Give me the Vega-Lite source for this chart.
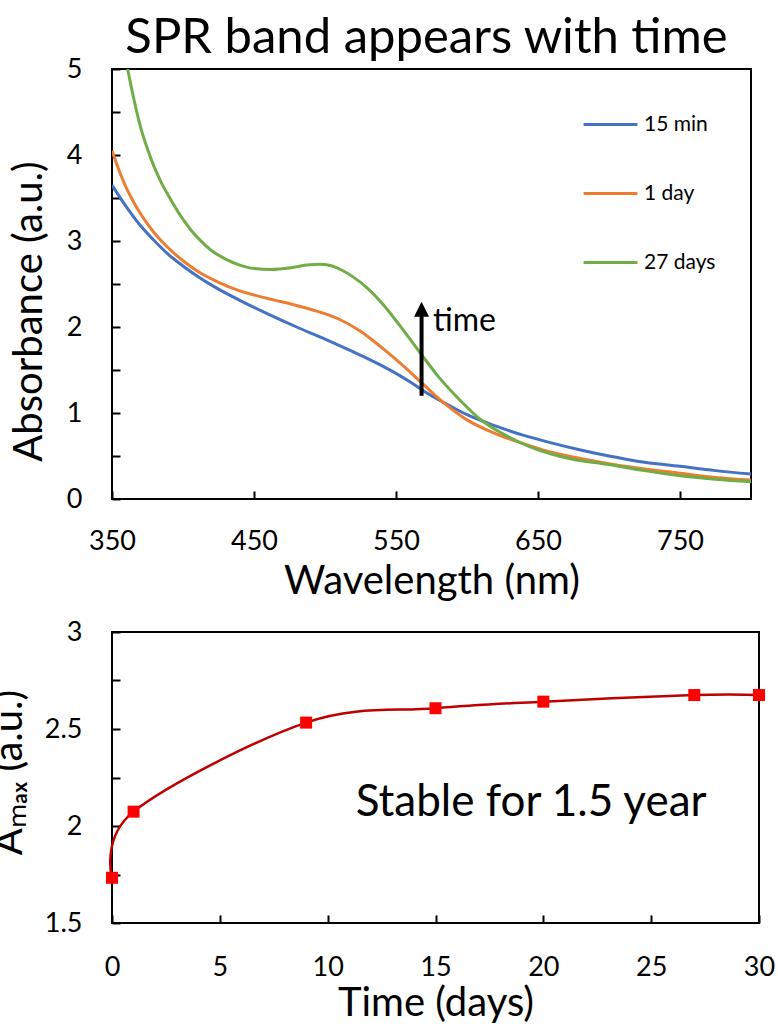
{
  "$schema": "https://vega.github.io/schema/vega-lite/v6.json",
  "padding": {"left": -12, "top": 13, "right": 0, "bottom": 0},
  "spacing": 15,
  "config": {
    "font": "Lato",
    "view": {"stroke": "black", "strokeWidth": 2},
    "axis": {
      "domain": false, "grid": false, "ticks": true,
      "tickColor": "black", "tickWidth": 2, "tickSize": -8,
      "labelColor": "black", "labelFont": "Lato", "labelFontSize": 27,
      "titleFont": "Lato", "titleFontSize": 40, "titleFontWeight": "normal", "titleColor": "black",
      "labelFlush": false, "labelOverlap": false
    },
    "legend": {"labelFont": "Lato", "labelColor": "black"}
  },
  "datasets": {
    "spectra": [
      {"wavelength": 350, "absorbance": 3.65, "series": "15 min"},
      {"wavelength": 360, "absorbance": 3.40, "series": "15 min"},
      {"wavelength": 370, "absorbance": 3.18, "series": "15 min"},
      {"wavelength": 380, "absorbance": 3.00, "series": "15 min"},
      {"wavelength": 390, "absorbance": 2.84, "series": "15 min"},
      {"wavelength": 400, "absorbance": 2.71, "series": "15 min"},
      {"wavelength": 412, "absorbance": 2.57, "series": "15 min"},
      {"wavelength": 425, "absorbance": 2.44, "series": "15 min"},
      {"wavelength": 440, "absorbance": 2.31, "series": "15 min"},
      {"wavelength": 460, "absorbance": 2.15, "series": "15 min"},
      {"wavelength": 480, "absorbance": 2.00, "series": "15 min"},
      {"wavelength": 500, "absorbance": 1.86, "series": "15 min"},
      {"wavelength": 520, "absorbance": 1.71, "series": "15 min"},
      {"wavelength": 540, "absorbance": 1.55, "series": "15 min"},
      {"wavelength": 560, "absorbance": 1.36, "series": "15 min"},
      {"wavelength": 570, "absorbance": 1.25, "series": "15 min"},
      {"wavelength": 585, "absorbance": 1.11, "series": "15 min"},
      {"wavelength": 600, "absorbance": 0.98, "series": "15 min"},
      {"wavelength": 620, "absorbance": 0.85, "series": "15 min"},
      {"wavelength": 640, "absorbance": 0.74, "series": "15 min"},
      {"wavelength": 660, "absorbance": 0.65, "series": "15 min"},
      {"wavelength": 680, "absorbance": 0.57, "series": "15 min"},
      {"wavelength": 700, "absorbance": 0.50, "series": "15 min"},
      {"wavelength": 720, "absorbance": 0.44, "series": "15 min"},
      {"wavelength": 750, "absorbance": 0.38, "series": "15 min"},
      {"wavelength": 775, "absorbance": 0.33, "series": "15 min"},
      {"wavelength": 800, "absorbance": 0.29, "series": "15 min"},
      {"wavelength": 350, "absorbance": 4.05, "series": "1 day"},
      {"wavelength": 355, "absorbance": 3.82, "series": "1 day"},
      {"wavelength": 360, "absorbance": 3.62, "series": "1 day"},
      {"wavelength": 365, "absorbance": 3.46, "series": "1 day"},
      {"wavelength": 370, "absorbance": 3.32, "series": "1 day"},
      {"wavelength": 375, "absorbance": 3.20, "series": "1 day"},
      {"wavelength": 380, "absorbance": 3.09, "series": "1 day"},
      {"wavelength": 389, "absorbance": 2.93, "series": "1 day"},
      {"wavelength": 400, "absorbance": 2.77, "series": "1 day"},
      {"wavelength": 412, "absorbance": 2.63, "series": "1 day"},
      {"wavelength": 425, "absorbance": 2.52, "series": "1 day"},
      {"wavelength": 440, "absorbance": 2.42, "series": "1 day"},
      {"wavelength": 460, "absorbance": 2.33, "series": "1 day"},
      {"wavelength": 480, "absorbance": 2.25, "series": "1 day"},
      {"wavelength": 497, "absorbance": 2.17, "series": "1 day"},
      {"wavelength": 510, "absorbance": 2.09, "series": "1 day"},
      {"wavelength": 525, "absorbance": 1.95, "series": "1 day"},
      {"wavelength": 540, "absorbance": 1.76, "series": "1 day"},
      {"wavelength": 555, "absorbance": 1.55, "series": "1 day"},
      {"wavelength": 570, "absorbance": 1.32, "series": "1 day"},
      {"wavelength": 585, "absorbance": 1.10, "series": "1 day"},
      {"wavelength": 600, "absorbance": 0.92, "series": "1 day"},
      {"wavelength": 620, "absorbance": 0.76, "series": "1 day"},
      {"wavelength": 644, "absorbance": 0.62, "series": "1 day"},
      {"wavelength": 660, "absorbance": 0.54, "series": "1 day"},
      {"wavelength": 680, "absorbance": 0.47, "series": "1 day"},
      {"wavelength": 700, "absorbance": 0.41, "series": "1 day"},
      {"wavelength": 725, "absorbance": 0.35, "series": "1 day"},
      {"wavelength": 750, "absorbance": 0.30, "series": "1 day"},
      {"wavelength": 775, "absorbance": 0.25, "series": "1 day"},
      {"wavelength": 800, "absorbance": 0.22, "series": "1 day"},
      {"wavelength": 361, "absorbance": 5.00, "series": "27 days"},
      {"wavelength": 365, "absorbance": 4.68, "series": "27 days"},
      {"wavelength": 370, "absorbance": 4.33, "series": "27 days"},
      {"wavelength": 375, "absorbance": 4.07, "series": "27 days"},
      {"wavelength": 380, "absorbance": 3.85, "series": "27 days"},
      {"wavelength": 385, "absorbance": 3.67, "series": "27 days"},
      {"wavelength": 390, "absorbance": 3.52, "series": "27 days"},
      {"wavelength": 398, "absorbance": 3.30, "series": "27 days"},
      {"wavelength": 405, "absorbance": 3.14, "series": "27 days"},
      {"wavelength": 412, "absorbance": 3.01, "series": "27 days"},
      {"wavelength": 420, "absorbance": 2.89, "series": "27 days"},
      {"wavelength": 430, "absorbance": 2.79, "series": "27 days"},
      {"wavelength": 440, "absorbance": 2.72, "series": "27 days"},
      {"wavelength": 450, "absorbance": 2.68, "series": "27 days"},
      {"wavelength": 462, "absorbance": 2.67, "series": "27 days"},
      {"wavelength": 476, "absorbance": 2.69, "series": "27 days"},
      {"wavelength": 487, "absorbance": 2.72, "series": "27 days"},
      {"wavelength": 497, "absorbance": 2.73, "series": "27 days"},
      {"wavelength": 505, "absorbance": 2.71, "series": "27 days"},
      {"wavelength": 512, "absorbance": 2.66, "series": "27 days"},
      {"wavelength": 520, "absorbance": 2.58, "series": "27 days"},
      {"wavelength": 530, "absorbance": 2.45, "series": "27 days"},
      {"wavelength": 540, "absorbance": 2.28, "series": "27 days"},
      {"wavelength": 553, "absorbance": 2.01, "series": "27 days"},
      {"wavelength": 567, "absorbance": 1.70, "series": "27 days"},
      {"wavelength": 580, "absorbance": 1.42, "series": "27 days"},
      {"wavelength": 595, "absorbance": 1.15, "series": "27 days"},
      {"wavelength": 609, "absorbance": 0.93, "series": "27 days"},
      {"wavelength": 625, "absorbance": 0.76, "series": "27 days"},
      {"wavelength": 644, "absorbance": 0.61, "series": "27 days"},
      {"wavelength": 660, "absorbance": 0.52, "series": "27 days"},
      {"wavelength": 672, "absorbance": 0.47, "series": "27 days"},
      {"wavelength": 700, "absorbance": 0.40, "series": "27 days"},
      {"wavelength": 725, "absorbance": 0.33, "series": "27 days"},
      {"wavelength": 750, "absorbance": 0.27, "series": "27 days"},
      {"wavelength": 775, "absorbance": 0.23, "series": "27 days"},
      {"wavelength": 800, "absorbance": 0.20, "series": "27 days"}
    ],
    "arrow": [
      {"wavelength": 568, "absorbance": 1.20, "absorbance2": 2.15, "head": 2.205}
    ],
    "topNotes": [
      {"wavelength": 576, "absorbance": 1.95, "label": "time"}
    ],
    "stability": [
      {"time": 0, "amax": 1.733},
      {"time": 1, "amax": 2.074},
      {"time": 9, "amax": 2.533},
      {"time": 15, "amax": 2.607},
      {"time": 20, "amax": 2.641},
      {"time": 27, "amax": 2.675},
      {"time": 30, "amax": 2.675}
    ],
    "bottomNotes": [
      {"time": 11.3, "amax": 2.05, "label": "Stable for 1.5 year"}
    ]
  },
  "vconcat": [
    {
      "width": 639,
      "height": 430,
      "title": {"text": "SPR band appears with time", "fontSize": 49, "font": "Lato", "fontWeight": "normal", "color": "black", "anchor": "middle", "offset": -8, "dx": -5},
      "layer": [
        {
          "data": {"name": "spectra"},
          "mark": {"type": "line", "strokeWidth": 3, "interpolate": "monotone", "clip": true},
          "encoding": {
            "x": {"field": "wavelength", "type": "quantitative",
              "scale": {"domain": [350, 800], "nice": false, "zero": false},
              "axis": {"values": [350, 450, 550, 650, 750], "labelPadding": 37, "title": "Wavelength (nm)", "titlePadding": 7}},
            "y": {"field": "absorbance", "type": "quantitative",
              "scale": {"domain": [0, 5], "nice": false},
              "axis": {"values": [0, 0.5, 1, 1.5, 2, 2.5, 3, 3.5, 4, 4.5, 5], "labelExpr": "datum.value % 1 === 0 ? '' + datum.value : ''", "labelPadding": 38, "title": "Absorbance (a.u.)", "titlePadding": 17, "titleY": 242}},
            "color": {"field": "series", "type": "nominal",
              "scale": {"domain": ["15 min", "1 day", "27 days"], "range": ["#4472C4", "#ED7D31", "#70AD47"]},
              "legend": {"orient": "none", "legendX": 470, "legendY": 27, "title": null, "symbolType": "stroke", "symbolSize": 2900, "symbolStrokeWidth": 3, "labelFontSize": 21, "rowPadding": 30, "labelOffset": 5, "padding": 0}}
          }
        },
        {
          "data": {"name": "arrow"},
          "mark": {"type": "rule", "strokeWidth": 4, "color": "black"},
          "encoding": {
            "x": {"field": "wavelength", "type": "quantitative"},
            "y": {"field": "absorbance", "type": "quantitative"},
            "y2": {"field": "absorbance2"}
          }
        },
        {
          "data": {"name": "arrow"},
          "mark": {"type": "point", "shape": "M0,-1L1,1L-1,1Z", "size": 225, "filled": true, "color": "black", "opacity": 1, "strokeWidth": 0},
          "encoding": {
            "x": {"field": "wavelength", "type": "quantitative"},
            "y": {"field": "head", "type": "quantitative"}
          }
        },
        {
          "data": {"name": "topNotes"},
          "mark": {"type": "text", "align": "left", "baseline": "alphabetic", "fontSize": 32, "font": "Lato", "color": "black"},
          "encoding": {
            "x": {"field": "wavelength", "type": "quantitative"},
            "y": {"field": "absorbance", "type": "quantitative"},
            "text": {"field": "label"}
          }
        }
      ]
    },
    {
      "width": 647,
      "height": 291,
      "layer": [
        {
          "data": {"name": "stability"},
          "mark": {"type": "line", "color": "#C00000", "strokeWidth": 2.5, "interpolate": "cardinal"},
          "encoding": {
            "x": {"field": "time", "type": "quantitative",
              "scale": {"domain": [0, 30], "nice": false},
              "axis": {"values": [0, 5, 10, 15, 20, 25, 30], "labelPadding": 39, "title": "Time (days)", "titlePadding": 3}},
            "y": {"field": "amax", "type": "quantitative",
              "scale": {"domain": [1.5, 3], "nice": false, "zero": false},
              "axis": {"values": [1.5, 1.75, 2, 2.25, 2.5, 2.75, 3], "labelExpr": "(datum.value * 2) % 1 === 0 ? '' + datum.value : ''", "labelPadding": 38, "title": "Aₘₐₓ (a.u.)", "titlePadding": 15, "titleY": 140}}
          }
        },
        {
          "data": {"name": "stability"},
          "mark": {"type": "square", "color": "#FF0000", "size": 144, "opacity": 1, "filled": true},
          "encoding": {
            "x": {"field": "time", "type": "quantitative"},
            "y": {"field": "amax", "type": "quantitative"}
          }
        },
        {
          "data": {"name": "bottomNotes"},
          "mark": {"type": "text", "align": "left", "baseline": "alphabetic", "fontSize": 44, "font": "Lato", "color": "black"},
          "encoding": {
            "x": {"field": "time", "type": "quantitative"},
            "y": {"field": "amax", "type": "quantitative"},
            "text": {"field": "label"}
          }
        }
      ]
    }
  ]
}
